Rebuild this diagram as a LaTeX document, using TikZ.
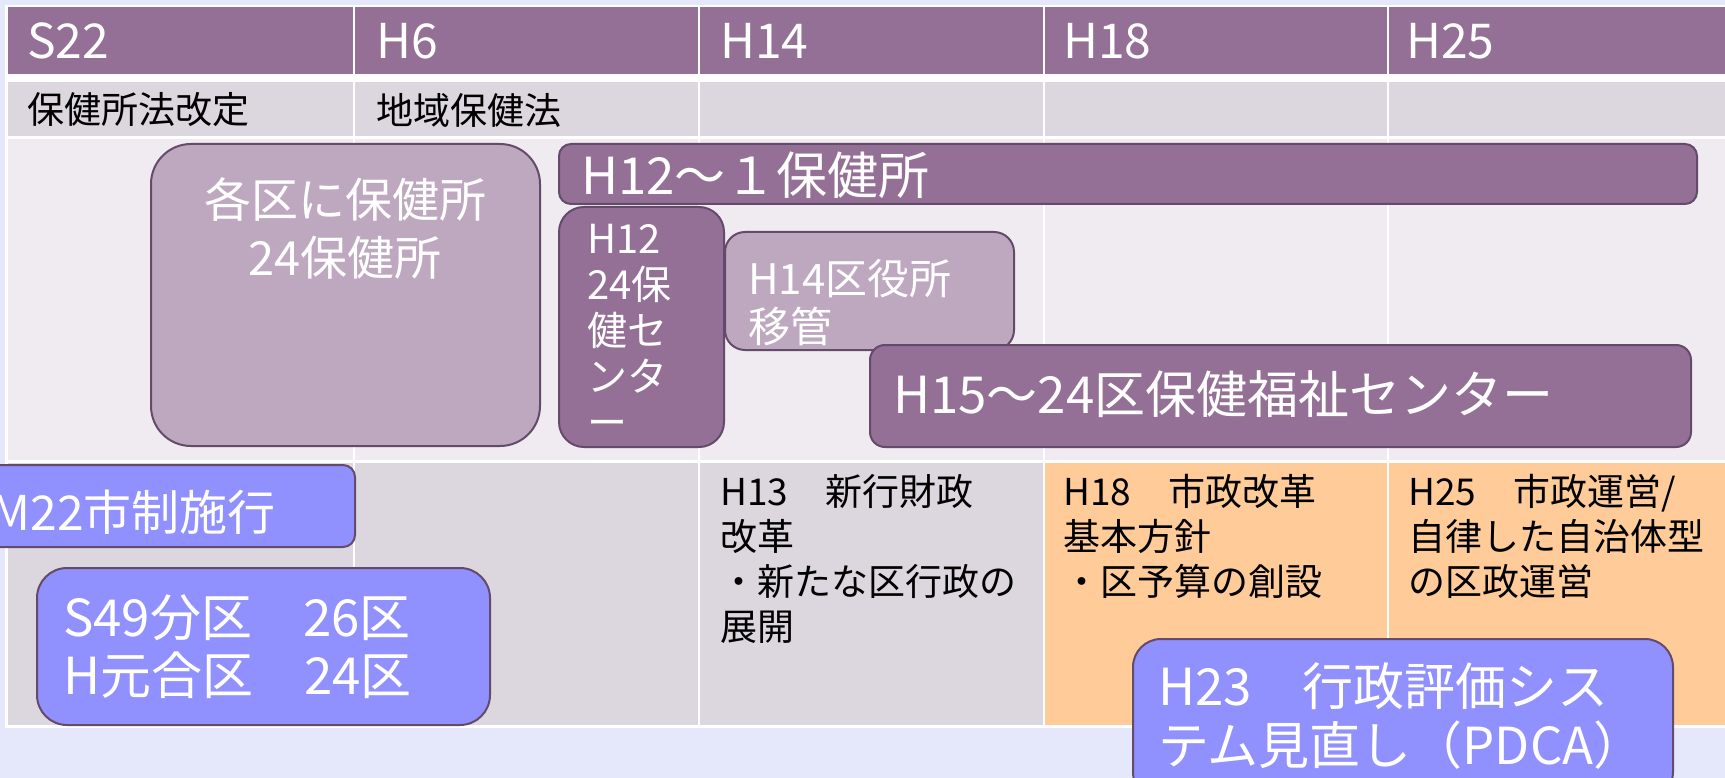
\documentclass[tikz,border=0pt]{standalone}
\usepackage{fontspec}
\setmainfont{Noto Sans CJK JP}
\usepackage{xcolor}
\definecolor{pagebg}{HTML}{E4E8FA}
\definecolor{hdrpurple}{HTML}{947096}
\definecolor{cellgray}{HTML}{DCD6DE}
\definecolor{celllight}{HTML}{EFEBF0}
\definecolor{cellorange}{HTML}{FFCC99}
\definecolor{boxlilac}{HTML}{BEA8C0}
\definecolor{boxblue}{HTML}{9090FF}
\definecolor{boxedge}{HTML}{644B69}

\begin{document}
\begin{tikzpicture}[x=1pt, y=-1pt,
  hdr/.style={anchor=west, inner sep=0pt, text=white, font=\fontsize{48}{52}\selectfont},
  note/.style={anchor=north west, inner sep=0pt, align=left, text=black, font=\fontsize{37}{45}\selectfont},
  panel/.style={draw=boxedge, line width=2pt},
  boxtext/.style={inner sep=0pt, align=left, text=white},
]
\clip (0,0) rectangle (1725,778);
\fill[pagebg] (0,0) rectangle (1725,778);
\fill[white] (5,5) rectangle (1725,728);

% table cells
\foreach \xa/\xb/\c in {8/353/cellgray, 355/698/cellgray, 700/1043/cellgray, 1045/1387/cellorange, 1389/1725/cellorange} {
  \fill[hdrpurple] (\xa,7) rectangle (\xb,74);
  \fill[cellgray] (\xa,82) rectangle (\xb,136);
  \fill[celllight] (\xa,139) rectangle (\xb,460);
  \fill[\c] (\xa,463) rectangle (\xb,725);
}

\node[hdr] (s22) at (27,41) {S22};
\node[hdr] (h6) at (376,41) {H6};
\node[hdr] (h14) at (720,41) {H14};
\node[hdr] (h18) at (1063,41) {H18};
\node[hdr] (h25) at (1406,41) {H25};

\node[note, anchor=west] (kaitei) at (27,110) {保健所法改定};
\node[note, anchor=west] (chiiki) at (376,110) {地域保健法};

% boxes
\draw[panel, fill=boxlilac, rounded corners=40pt] (151,144) rectangle (540,446);
\node[boxtext, anchor=north, align=center, font=\fontsize{47}{58}\selectfont] (kakuku) at (345,177) {各区に保健所\\24保健所};

\draw[panel, fill=hdrpurple, rounded corners=12pt] (559,144) rectangle (1697,204);
\node[boxtext, anchor=west, font=\fontsize{51}{54}\selectfont] (hokenjo) at (581,175) {H12〜１保健所};

\draw[panel, fill=hdrpurple, rounded corners=25pt] (559,207) rectangle (724,447);
\node[boxtext, anchor=north west, font=\fontsize{40}{46}\selectfont] (center12) at (587,224) {H12\\24保\\健セ\\ンタ\\ー};

\draw[panel, fill=boxlilac, rounded corners=20pt] (725,232) rectangle (1014,350);
\node[boxtext, anchor=north west, font=\fontsize{42}{48}\selectfont] (kuyakusho) at (748,259) {H14区役所\\移管};

\draw[panel, fill=hdrpurple, rounded corners=15pt] (870,345) rectangle (1691,447);
\node[boxtext, anchor=west, font=\fontsize{51}{56}\selectfont] (fukushi) at (893,394) {H15〜24区保健福祉センター};

\draw[panel, fill=boxblue, rounded corners=12pt] (-20,465) rectangle (355,547);
\node[boxtext, anchor=east, font=\fontsize{48}{52}\selectfont] (shisei) at (276,512) {M22市制施行};

\draw[panel, fill=boxblue, rounded corners=30pt] (37,568) rectangle (490,725);
\node[boxtext, anchor=north west, font=\fontsize{51}{58}\selectfont] (bunku) at (63,594) {S49分区　26区\\H元合区　24区};

% row 4 notes
\node[note] (gyozaisei) at (720,474) {H13　新行財政\\改革\\・新たな区行政の\\展開};
\node[note] (kaikaku) at (1063,474) {H18　市政改革\\基本方針\\・区予算の創設};
\node[note] (unei) at (1408,474) {H25　市政運営/\\自律した自治体型\\の区政運営};

\draw[panel, fill=boxblue, rounded corners=28pt] (1133,639) rectangle (1673,800);
\node[boxtext, anchor=north west, font=\fontsize{51}{59}\selectfont] (hyoka) at (1158,662) {H23　行政評価シス\\テム見直し（PDCA）};
\end{tikzpicture}
\end{document}
